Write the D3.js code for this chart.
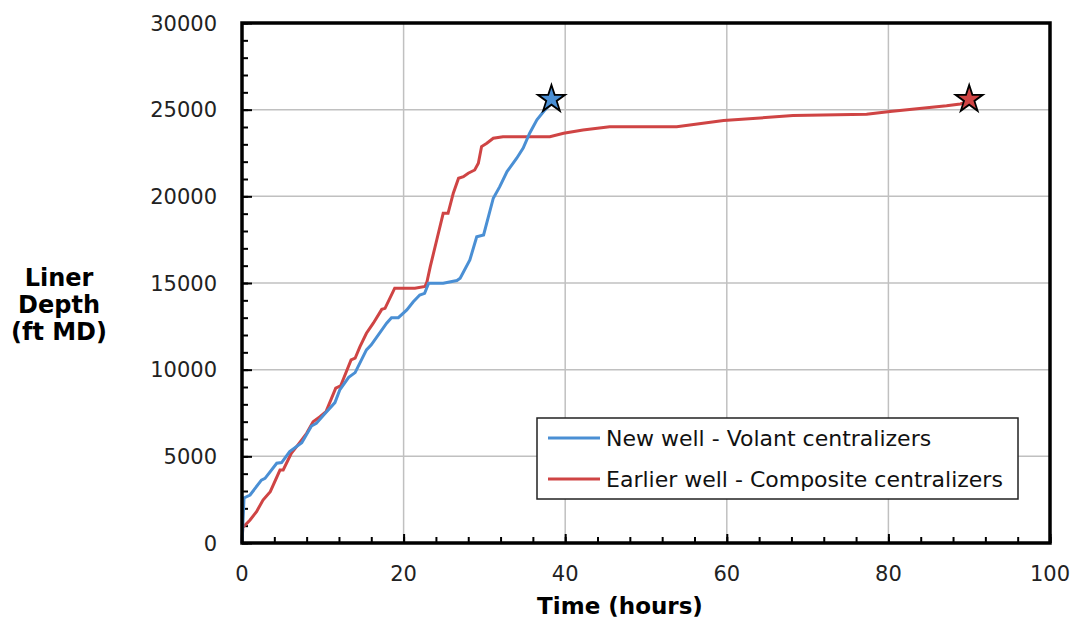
<!DOCTYPE html>
<html>
<head>
<meta charset="utf-8">
<script src="https://cdn.jsdelivr.net/npm/d3@7"></script>
<style>
  body { margin: 0; background: #fff; }
  svg { display: block; }
</style>
</head>
<body>
<script>
// values (hours, ft MD)
const newWellHours = [0, 0.1, 0.25, 1.0, 2.4, 2.85, 4.3, 4.9, 5.9, 7.4, 8.6, 9.2, 10.3, 11.5, 12.1, 13.2, 14.0, 15.4, 16.0, 17.9, 18.5, 19.35, 20.4, 21.2, 22.0, 22.6, 23.1, 24.9, 26.6, 27.0, 28.2, 29.05, 29.9, 31.1, 31.9, 32.8, 34.0, 34.8, 35.6, 36.5, 37.5, 38.1, 38.3]
const newWellDepth = [0, 1000, 2600, 2770, 3630, 3730, 4600, 4640, 5270, 5790, 6750, 6900, 7480, 8100, 8830, 9560, 9830, 11140, 11430, 12680, 13000, 13000, 13450, 13920, 14310, 14400, 14990, 14990, 15140, 15270, 16330, 17670, 17770, 19890, 20560, 21430, 22200, 22780, 23640, 24410, 24990, 25270, 25600]

const earlierWellHours = [0, 0.1, 1.0, 1.8, 2.6, 3.5, 4.7, 5.1, 6.1, 6.9, 8.0, 8.8, 9.65, 10.4, 11.6, 12.2, 13.5, 14.0, 14.6, 15.4, 16.25, 17.3, 17.7, 18.9, 19.35, 21.4, 22.65, 22.9, 23.3, 24.1, 24.9, 25.5, 26.15, 26.8, 27.4, 28.0, 28.8, 29.25, 29.65, 30.3, 31.1, 32.3, 35.6, 38.1, 39.8, 42.2, 45.5, 48.4, 53.8, 59.6, 68.2, 77.3, 80.2, 87.2, 88.9, 90]
const earlierWellDepth = [0, 900, 1330, 1810, 2480, 2960, 4210, 4210, 5170, 5650, 6330, 7000, 7290, 7580, 8930, 9060, 10560, 10660, 11330, 12100, 12680, 13480, 13540, 14700, 14700, 14700, 14800, 15080, 15940, 17480, 19020, 19020, 20180, 21040, 21130, 21330, 21520, 21910, 22870, 23060, 23350, 23440, 23440, 23440, 23640, 23830, 24020, 24020, 24020, 24370, 24660, 24740, 24890, 25220, 25330, 25500]

const endPoints = [[38.3, 25600], [90, 25600]]
const seriesNames = ['New well - Volant centralizers', 'Earlier well - Composite centralizers']
const seriesColors = ['#4a8fd4', '#cf4444']

const xTicks = [0, 20, 40, 60, 80, 100]
const yTicks = [0, 5000, 10000, 15000, 20000, 25000, 30000]

const W = 1070, H = 619
const margin = { top: 23, right: 20, bottom: 76, left: 242 }
const width = W - margin.left - margin.right
const height = H - margin.top - margin.bottom

const svg = d3.select('body').append('svg')
    .attr('width', W)
    .attr('height', H)

const g = svg.append('g')
    .attr('transform', 'translate(' + margin.left + ',' + margin.top + ')')

const x = d3.scaleLinear().domain([0, 100]).range([0, width])
const y = d3.scaleLinear().domain([0, 30000]).range([height, 0])

// grid
g.append('g').selectAll('line').data(xTicks.slice(1, -1)).join('line')
    .attr('x1', d => x(d)).attr('x2', d => x(d))
    .attr('y1', 0).attr('y2', height)
    .attr('stroke', '#c0c0c0').attr('stroke-width', 1.5)
g.append('g').selectAll('line').data(yTicks.slice(1, -1)).join('line')
    .attr('x1', 0).attr('x2', width)
    .attr('y1', d => y(d)).attr('y2', d => y(d))
    .attr('stroke', '#c0c0c0').attr('stroke-width', 1.5)

// axes: inward minor ticks, longer major ones
g.append('g')
    .attr('transform', 'translate(0,' + height + ')')
    .call(d3.axisTop(x).tickValues(d3.range(0, 101, 4)).tickSize(6).tickFormat(''))
g.append('g')
    .attr('transform', 'translate(0,' + height + ')')
    .call(d3.axisTop(x).tickValues(xTicks).tickSize(9).tickFormat(''))
g.append('g')
    .call(d3.axisRight(y).tickValues(d3.range(0, 30001, 1000)).tickSize(6).tickFormat(''))
g.append('g')
    .call(d3.axisRight(y).tickValues(yTicks).tickSize(10).tickFormat(''))
g.selectAll('.domain').remove()
g.selectAll('.tick line').attr('stroke', '#000').attr('stroke-width', 2)

// tick labels
g.append('g').selectAll('text').data(xTicks).join('text')
    .attr('x', d => x(d)).attr('y', height + 38)
    .attr('text-anchor', 'middle')
    .style('font', '21px "DejaVu Sans"').attr('fill', '#222')
    .text(d => d)
g.append('g').selectAll('text').data(yTicks).join('text')
    .attr('x', -25).attr('y', d => y(d)).attr('dy', '0.36em')
    .attr('text-anchor', 'end')
    .style('font', '21px "DejaVu Sans"').attr('fill', '#222')
    .text(d => d)

// series
const line = d3.line().x(d => x(d[0])).y(d => y(d[1]))
const series = [
    d3.zip(newWellHours, newWellDepth),
    d3.zip(earlierWellHours, earlierWellDepth)
]
// earlier well first so the new well sits on top near the start
g.append('path').datum(series[1]).attr('d', line)
    .attr('fill', 'none').attr('stroke', seriesColors[1]).attr('stroke-width', 3)
g.append('path').datum(series[0]).attr('d', line)
    .attr('fill', 'none').attr('stroke', seriesColors[0]).attr('stroke-width', 3)

// frame
g.append('rect').attr('width', width).attr('height', height)
    .attr('fill', 'none').attr('stroke', '#000').attr('stroke-width', 3.5)

// end markers
const star = d3.symbol(d3.symbolStar).size(230)
g.selectAll('.star').data(endPoints).join('path')
    .attr('class', 'star')
    .attr('transform', d => 'translate(' + x(d[0]) + ',' + y(d[1]) + ')')
    .attr('d', star)
    .attr('fill', (d, i) => seriesColors[i])
    .attr('stroke', '#000').attr('stroke-width', 1.8)

// legend
const lg = svg.append('g').attr('transform', 'translate(537,418)')
lg.append('rect').attr('width', 481).attr('height', 81)
    .attr('fill', '#fff').attr('stroke', '#222').attr('stroke-width', 1.5)
seriesNames.forEach((name, i) => {
    const yy = 20 + i * 41
    lg.append('line').attr('x1', 11).attr('x2', 63).attr('y1', yy).attr('y2', yy)
        .attr('stroke', seriesColors[i]).attr('stroke-width', 3)
    lg.append('text').attr('x', 69).attr('y', yy).attr('dy', '0.36em')
        .style('font', '22px "DejaVu Sans"').attr('fill', '#111')
        .text(name)
})

// axis titles
svg.append('text').attr('x', 620).attr('y', 614)
    .attr('text-anchor', 'middle')
    .style('font', 'bold 23px "DejaVu Sans"')
    .text('Time (hours)')
const yl = svg.append('text').attr('text-anchor', 'middle')
    .style('font', 'bold 24px "DejaVu Sans"')
;['Liner', 'Depth', '(ft MD)'].forEach((t, i) => {
    yl.append('tspan').attr('x', 59).attr('y', 286 + i * 27).text(t)
})
</script>
</body>
</html>
